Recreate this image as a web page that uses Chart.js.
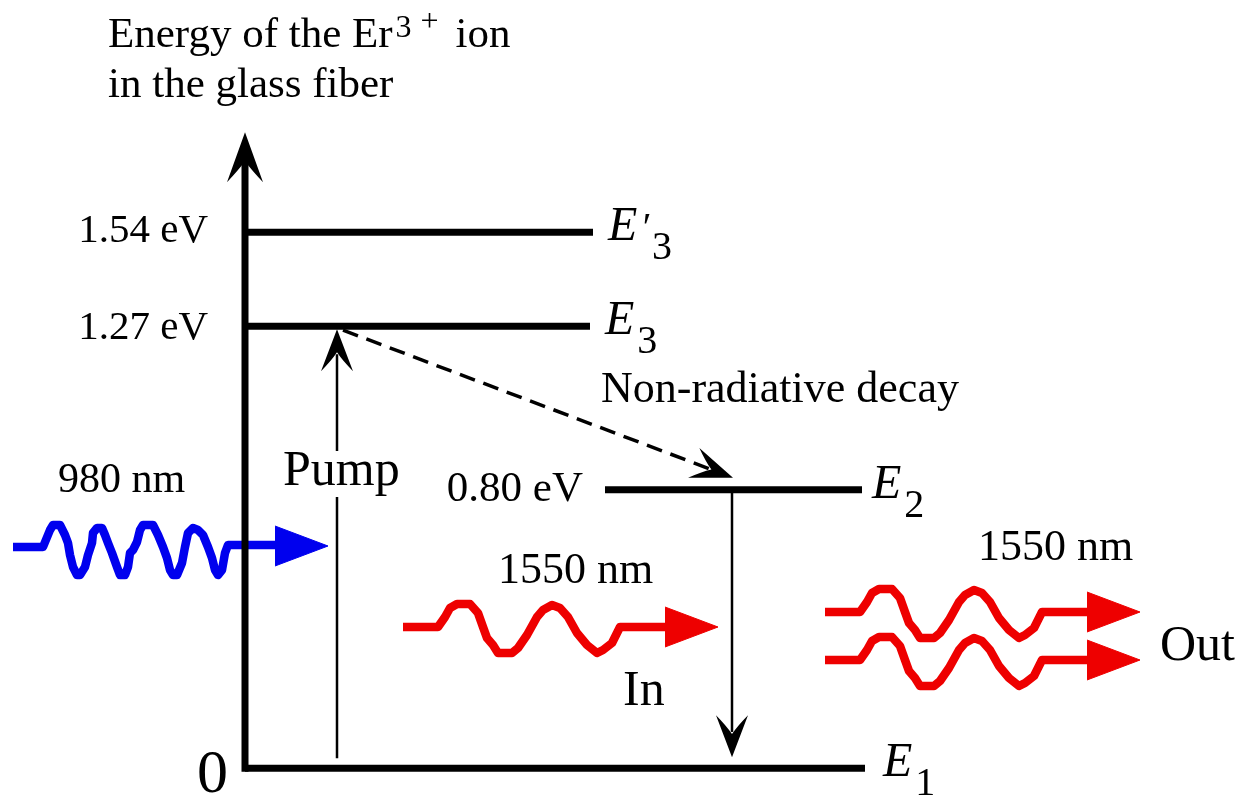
<!DOCTYPE html>
<html>
<head>
<meta charset="utf-8">
<title>Er3+ energy levels in an erbium-doped fiber amplifier</title>
<script src="https://cdn.jsdelivr.net/npm/chart.js@4.4.1/dist/chart.umd.min.js"></script>
<style>
  html, body { margin: 0; padding: 0; background: #ffffff; }
  canvas { display: block; }
</style>
</head>
<body>
<canvas id="chart" width="1240" height="796"></canvas>
<script>
// ---------- data ----------
// Energy levels of the Er3+ ion in the glass fiber (eV)
const levelNames = ['E1', 'E2', 'E3', "E'3"];
const levelEnergies = [0, 0.80, 1.27, 1.54];
const levelValueLabels = ['0', '0.80 eV', '1.27 eV', '1.54 eV'];
const levelSubscripts = ['1', '2', '3', '3'];
const levelPrimes = [false, false, false, true];

// Photon wavelengths
const pumpWavelength = '980 nm';
const signalWavelength = '1550 nm';

// Squiggle profiles of the photons (offsets from the start of each photon)
const pumpWaveDX = [0, 30, 37, 40, 47, 52, 55, 57, 60, 64, 67, 72, 75, 79, 80, 84, 89, 92, 95, 99,
  104, 107, 112, 115, 117, 120, 124, 127, 130, 140, 145, 150, 154, 157, 160, 164, 169, 172, 175, 180,
  185, 190, 195, 199, 202, 205, 209, 212, 215, 220, 265];
const pumpWaveDY = [1, 1, -16, -21, -21, -11, -3, 9, 21, 29, 29, 21, 9, -3, -13, -18, -18, -11, -3, 7,
  21, 29, 29, 21, 7, 4, -4, -16, -21, -21, -11, 1, 12, 24, 29, 29, 17, 1, -13, -18,
  -16, -11, 1, 12, 24, 29, 24, 7, -1, -1, -1];
const signalWaveDX = [0, 35, 42, 47, 54, 67, 75, 80, 84, 90, 95, 109, 115, 124, 134, 140, 149, 157,
  165, 174, 184, 194, 200, 209, 214, 217, 265];
const signalWaveDY = [0, 0, -10, -19, -23, -23, -14, 0, 11, 18, 26, 26, 21, 8, -10, -17, -22, -19,
  -10, 6, 18, 26, 23, 16, 6, 0, 0];

// ---------- layout & style ----------
const SERIF = '"Liberation Serif", "Times New Roman", Times, serif';
const INK = '#000000';
const BLUE = '#0000ee';
const RED = '#ee0000';

const energyScale = { min: -0.08, max: 2.207 };
const axisX = 245;
const axisTipEnergy = 1.827;
const levelSpans = [[245, 865], [605, 862], [245, 590], [245, 593]];
const levelNameGap = [18, 10, 15, 15];
const valueLabelRight = [228, 583, 208, 208];
const valueLabelDrop = [24, 11, 13, 10];
const valueLabelSize = [62, 43, 41, 41];

// photon placements in diagram units
const photons = [
  { wave: 'pump', x: 13, y: 546, color: BLUE },
  { wave: 'signal', x: 403, y: 627, color: RED },
  { wave: 'signal', x: 825, y: 612, color: RED },
  { wave: 'signal', x: 825, y: 660, color: RED }
];
const headBaseDX = 262, headTipDX = 315, headHalf = 20;

// transitions between levels (index into levelEnergies), pixel insets at each end
const transitions = [
  { from: 0, to: 2, x0: 337, x1: 337, inset0: -10, inset1: 3, dashed: false },
  { from: 2, to: 1, x0: 343, x1: 733, inset0: 4, inset1: -12, dashed: true },
  { from: 1, to: 0, x0: 732, x1: 732, inset0: 0, inset1: -11, dashed: false }
];

const annotations = [
  { text: 'Pump', x: 283, y: 485, size: 50, knockout: true },
  { text: 'Non-radiative decay', x: 601, y: 402, size: 44 },
  { text: pumpWavelength, x: 58, y: 492, size: 42 },
  { text: signalWavelength, x: 498, y: 583, size: 44 },
  { text: signalWavelength, x: 978, y: 560, size: 44 },
  { text: 'In', x: 623, y: 705, size: 50 },
  { text: 'Out', x: 1160, y: 660, size: 50 }
];

// ---------- datasets ----------
const datasets = [];
const lineBase = { pointRadius: 0, pointHoverRadius: 0, tension: 0, fill: false };

levelEnergies.forEach((e, i) => {
  datasets.push(Object.assign({}, lineBase, {
    label: levelNames[i],
    data: [{ x: levelSpans[i][0], y: e }, { x: levelSpans[i][1], y: e }],
    yAxisID: 'y',
    borderColor: INK,
    borderWidth: 7
  }));
});

datasets.push(Object.assign({}, lineBase, {
  label: 'Energy axis',
  data: [{ x: axisX, y: axisTipEnergy - 0.06 }, { x: axisX, y: levelEnergies[0] }],
  yAxisID: 'y',
  borderColor: INK,
  borderWidth: 7,
  borderCapStyle: 'square'
}));

photons.forEach((p, n) => {
  const dx = p.wave === 'pump' ? pumpWaveDX : signalWaveDX;
  const dy = p.wave === 'pump' ? pumpWaveDY : signalWaveDY;
  datasets.push(Object.assign({}, lineBase, {
    label: 'photon ' + n,
    data: dx.map((d, k) => ({ x: p.x + d, y: p.y + dy[k] })),
    yAxisID: 'yd',
    borderColor: p.color,
    borderWidth: 8.5,
    borderJoinStyle: 'round'
  }));
  datasets.push(Object.assign({}, lineBase, {
    label: 'photon head ' + n,
    data: [
      { x: p.x + headBaseDX, y: p.y - headHalf },
      { x: p.x + headTipDX, y: p.y },
      { x: p.x + headBaseDX, y: p.y + headHalf }
    ],
    yAxisID: 'yd',
    borderColor: p.color,
    borderWidth: 1,
    backgroundColor: p.color,
    fill: 'shape'
  }));
});

// ---------- drawing helpers ----------
// notched arrowhead: straight outer edges, slightly curved inner edges
function arrowHead(ctx, tx, ty, ang, len, half, notch, color) {
  ctx.save();
  ctx.translate(tx, ty);
  ctx.rotate(ang);
  ctx.beginPath();
  ctx.moveTo(0, 0);
  ctx.lineTo(-len, half);
  ctx.quadraticCurveTo(-len * 0.75, half * 0.35, -len * notch, 0);
  ctx.quadraticCurveTo(-len * 0.75, -half * 0.35, -len, -half);
  ctx.closePath();
  ctx.fillStyle = color;
  ctx.fill();
  ctx.restore();
}

const diagramPlugin = {
  id: 'levelDiagram',
  afterDatasetsDraw(chart) {
    const { ctx } = chart;
    const sx = chart.scales.x, sy = chart.scales.y;
    const px = v => sx.getPixelForValue(v);
    const pe = e => sy.getPixelForValue(e);

    ctx.save();
    ctx.fillStyle = INK;
    ctx.strokeStyle = INK;
    ctx.textBaseline = 'alphabetic';

    // arrowhead of the energy axis
    arrowHead(ctx, px(axisX), pe(axisTipEnergy), -Math.PI / 2, 50, 18, 0.58, INK);

    // transitions
    transitions.forEach(t => {
      const x0 = px(t.x0), y0 = pe(levelEnergies[t.from]) + t.inset0;
      const x1 = px(t.x1), y1 = pe(levelEnergies[t.to]) + t.inset1;
      const ang = Math.atan2(y1 - y0, x1 - x0);
      const L = 42, W = 16, notch = 0.55;
      const ex = x1 - Math.cos(ang) * L * (notch + 0.05);
      const ey = y1 - Math.sin(ang) * L * (notch + 0.05);
      ctx.save();
      ctx.beginPath();
      ctx.lineWidth = t.dashed ? 3.5 : 2.5;
      ctx.setLineDash(t.dashed ? [16, 9] : []);
      ctx.moveTo(x0, y0);
      ctx.lineTo(ex, ey);
      ctx.stroke();
      ctx.restore();
      arrowHead(ctx, x1, y1, ang, L, W, notch, INK);
    });

    // level names (E with subscript) and energy values
    levelEnergies.forEach((e, i) => {
      const ly = pe(e);
      const lx = px(levelSpans[i][1]) + levelNameGap[i];
      ctx.textAlign = 'left';
      ctx.font = 'italic 48px ' + SERIF;
      ctx.fillText('E', lx, ly + 8);
      let subX = lx + ctx.measureText('E').width + 3;
      if (levelPrimes[i]) {
        ctx.font = 'italic 40px ' + SERIF;
        ctx.fillText('\u2032', subX, ly + 8);
        subX += ctx.measureText('\u2032').width + 3;
      }
      ctx.font = '40px ' + SERIF;
      ctx.fillText(levelSubscripts[i], subX, ly + 27);

      ctx.textAlign = 'right';
      ctx.font = valueLabelSize[i] + 'px ' + SERIF;
      ctx.fillText(levelValueLabels[i], px(valueLabelRight[i]), ly + valueLabelDrop[i]);
    });

    // free annotations
    ctx.textAlign = 'left';
    annotations.forEach(a => {
      ctx.font = a.size + 'px ' + SERIF;
      const x = px(a.x), y = chart.scales.yd.getPixelForValue(a.y);
      if (a.knockout) {
        const w = ctx.measureText(a.text).width;
        ctx.save();
        ctx.fillStyle = '#ffffff';
        ctx.fillRect(x - 3, y - a.size * 0.68, w + 6, a.size * 0.92);
        ctx.restore();
      }
      ctx.fillText(a.text, x, y);
    });

    // axis title
    ctx.font = '43px ' + SERIF;
    ctx.fillText('Energy of the Er', 108, 47);
    const w1 = ctx.measureText('Energy of the Er').width;
    ctx.font = '32px ' + SERIF;
    ctx.fillText('3', 108 + w1 + 3, 37);
    ctx.fillText('+', 108 + w1 + 28, 31);
    ctx.font = '43px ' + SERIF;
    ctx.fillText('ion', 108 + w1 + 63, 47);
    ctx.fillText('in the glass fiber', 108, 97);

    ctx.restore();
  }
};

// ---------- chart ----------
new Chart(document.getElementById('chart'), {
  type: 'line',
  data: { datasets },
  options: {
    responsive: false,
    animation: false,
    events: [],
    layout: { padding: 0 },
    plugins: {
      legend: { display: false },
      tooltip: { enabled: false },
      title: { display: false }
    },
    scales: {
      x: { type: 'linear', min: 0, max: 1240, display: false },
      y: { type: 'linear', min: energyScale.min, max: energyScale.max, display: false },
      yd: { type: 'linear', min: 0, max: 796, reverse: true, display: false }
    }
  },
  plugins: [diagramPlugin]
});
</script>
</body>
</html>
